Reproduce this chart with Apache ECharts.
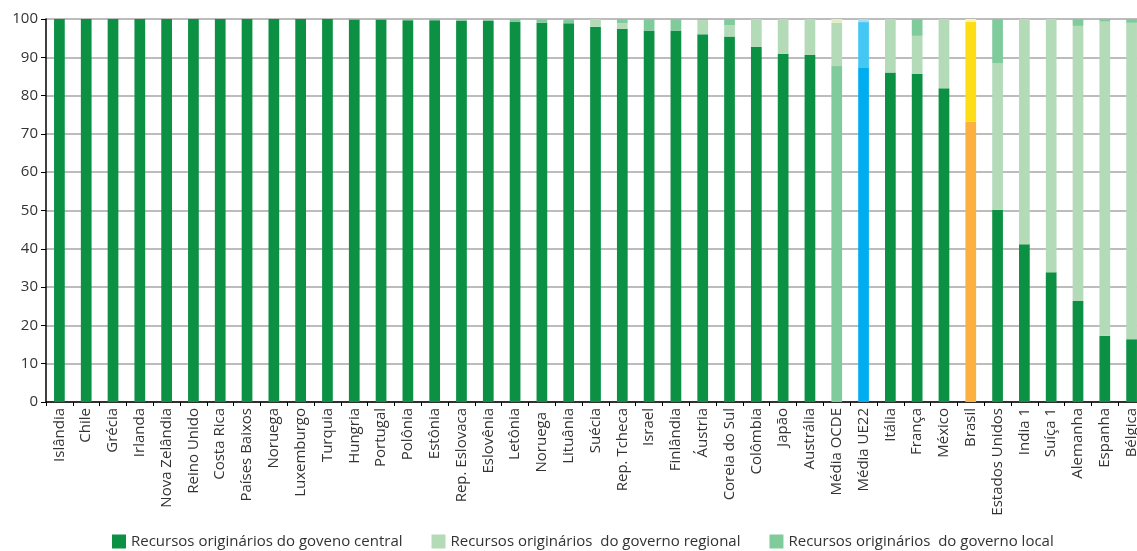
<!DOCTYPE html>
<html>
<head>
<meta charset="utf-8">
<script src="https://cdn.jsdelivr.net/npm/echarts@6/dist/echarts.min.js"></script>
<style>
  html, body { margin: 0; padding: 0; background: #ffffff; }
  #chart { width: 1137px; height: 551px; }
</style>
</head>
<body>
<div id="chart"></div>
<script>
// Share of revenue by level of government (%)
const categories = [
  'Islândia', 'Chile', 'Grécia', 'Irlanda', 'Nova Zelândia', 'Reino Unido', 'Costa Rica',
  'Países Baixos', 'Noruega', 'Luxemburgo', 'Turquia', 'Hungria', 'Portugal', 'Polônia',
  'Estônia', 'Rep. Eslovaca', 'Eslovênia', 'Letônia', 'Noruega ', 'Lituânia', 'Suécia',
  'Rep. Tcheca', 'Israel', 'Finlândia', 'Áustria', 'Coreia do Sul', 'Colômbia', 'Japão',
  'Austrália', 'Média OCDE', 'Média UE22', 'Itália', 'França', 'México', 'Brasil',
  'Estados Unidos', 'India 1', 'Suíça 1', 'Alemanha', 'Espanha', 'Bélgica'
];

const central = [
  100, 100, 100, 100, 100, 100, 100, 100, 100, 100, 100, 99.9, 99.9, 99.7,
  99.7, 99.5, 99.5, 99.2, 99.0, 98.9, 98.0, 97.4, 96.9, 96.9, 96.0, 95.4, 92.7, 90.9,
  90.6, 87.7, 87.2, 86.0, 85.7, 81.9, 73.2, 50.2, 41.2, 33.9, 26.4, 17.3, 16.4
];

const regional = [
  0, 0, 0, 0, 0, 0, 0, 0, 0, 0, 0, 0, 0, 0,
  0, 0, 0, 0, 0, 0, 2.0, 1.5, 0, 0, 3.7, 3.0, 7.3, 9.1,
  9.4, 11.3, 12.0, 14.0, 9.9, 18.1, 26.0, 38.3, 58.8, 66.1, 71.8, 82.0, 82.6
];

const local = [
  0, 0, 0, 0, 0, 0, 0, 0, 0, 0, 0, 0.1, 0.1, 0.3,
  0.3, 0.5, 0.5, 0.8, 1.0, 1.1, 0, 1.1, 3.1, 3.1, 0.3, 1.6, 0, 0,
  0, 1.0, 0.8, 0, 4.4, 0, 0.8, 11.5, 0, 0, 1.8, 0.7, 1.0
];

const seriesNames = [
  'Recursos originários do goveno central',
  'Recursos originários  do governo regional',
  'Recursos originários  do governo local'
];

// Default palette (central, regional, local) and highlighted groups
const palette = ['#0c9144', '#b4dbb8', '#80cb9c'];
const highlight = {
  'Média OCDE': ['#80cb9c', '#b4dbb8', '#e3edc4'],
  'Média UE22': ['#00aeef', '#45c7f3', '#a8dcf0'],
  'Brasil': ['#fbb040', '#ffdd15', '#fff59b']
};

const FONT = 'Open Sans';

function buildData(values, level) {
  return values.map((v, i) => {
    const h = highlight[categories[i]];
    return h ? { value: v, itemStyle: { color: h[level] } } : v;
  });
}

const chart = echarts.init(document.getElementById('chart'), null, { renderer: 'canvas' });

chart.setOption({
  animation: false,
  textStyle: { fontFamily: FONT },
  grid: { left: 46, right: -8, top: 19, bottom: 149, containLabel: false, outerBoundsMode: 'none' },
  legend: {
    top: 534,
    left: 112,
    padding: 0,
    itemWidth: 14,
    itemHeight: 14,
    itemGap: 29,
    icon: 'rect',
    textStyle: { fontFamily: FONT, fontSize: 15, color: '#333333' },
    data: seriesNames
  },
  xAxis: {
    type: 'category',
    data: categories,
    axisLine: { lineStyle: { color: '#000000', width: 1.5 } },
    axisTick: { show: true, length: 4, lineStyle: { color: '#000000' } },
    axisLabel: {
      rotate: 90,
      interval: 0,
      margin: 6,
      fontFamily: FONT,
      fontSize: 15,
      color: '#333333'
    }
  },
  yAxis: {
    type: 'value',
    min: 0,
    max: 100,
    interval: 10,
    axisLine: { show: true, lineStyle: { color: '#000000', width: 1.5 } },
    axisTick: { show: true, length: 5, lineStyle: { color: '#000000' } },
    axisLabel: { fontFamily: FONT, fontSize: 15, color: '#333333', margin: 8 },
    splitLine: { lineStyle: { color: '#a6a6a6', width: 1.5 } }
  },
  series: [
    { name: seriesNames[0], type: 'bar', stack: 'gov', barWidth: '40%', itemStyle: { color: palette[0] }, data: buildData(central, 0) },
    { name: seriesNames[1], type: 'bar', stack: 'gov', barWidth: '40%', itemStyle: { color: palette[1] }, data: buildData(regional, 1) },
    { name: seriesNames[2], type: 'bar', stack: 'gov', barWidth: '40%', itemStyle: { color: palette[2] }, data: buildData(local, 2) }
  ]
});
</script>
</body>
</html>
